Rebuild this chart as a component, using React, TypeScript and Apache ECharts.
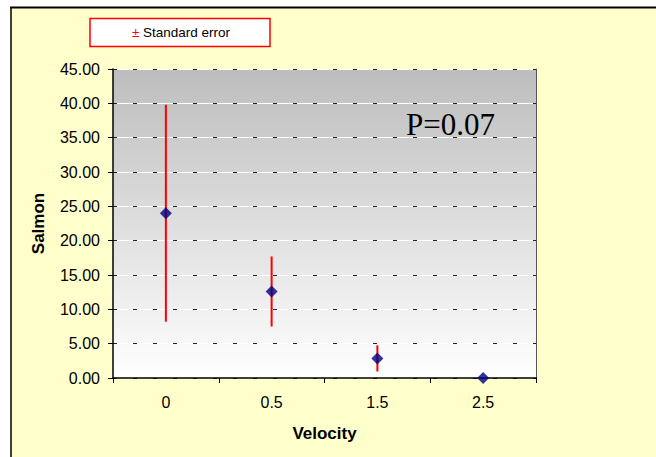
import React, { useEffect, useRef } from "react";
import * as echarts from "echarts";

const categories = ["0", "0.5", "1.5", "2.5"];
const means = [24.0, 12.6, 2.85, 0];
const stdErrors = [15.8, 5.1, 1.9, 0];
const yTicks = { min: 0, max: 45, interval: 5 };
const annotation = "P=0.07";
const legendLabel = "Standard error";

export default function App() {
  const ref = useRef<HTMLDivElement>(null);
  useEffect(() => {
    if (!ref.current) return;
    const chart = echarts.init(ref.current, null, { renderer: "svg" });
    const errData = categories.map((_, i) => [i, means[i] - stdErrors[i], means[i] + stdErrors[i]]);
    const labelFont = { color: "#000", fontFamily: "Arial, 'Liberation Sans', sans-serif", fontSize: 16 };
    const nameFont = { color: "#000", fontFamily: "Arial, 'Liberation Sans', sans-serif", fontSize: 17, fontWeight: "bold" };
    chart.setOption({
      animation: false,
      backgroundColor: "#FFFFCC",
      grid: {
        left: 113,
        top: 69,
        width: 423,
        height: 309,
        show: true,
        borderWidth: 0,
        backgroundColor: new echarts.graphic.LinearGradient(0, 0, 0, 1, [
          { offset: 0, color: "#bdbdbd" },
          { offset: 1, color: "#ffffff" },
        ]),
      },
      xAxis: {
        type: "category",
        data: categories,
        name: "Velocity",
        nameLocation: "middle",
        nameGap: 47,
        nameTextStyle: nameFont,
        axisLine: { lineStyle: { color: "#000", width: 1.5 } },
        axisTick: { show: true, length: 5, lineStyle: { color: "#000" } },
        axisLabel: { ...labelFont, margin: 16 },
        splitLine: { show: false },
      },
      yAxis: [
        {
          type: "value",
          min: yTicks.min,
          max: yTicks.max,
          interval: yTicks.interval,
          name: "Salmon",
          nameLocation: "middle",
          nameGap: 66,
          nameRotate: 90,
          nameTextStyle: nameFont,
          axisLine: { show: true, lineStyle: { color: "#000", width: 1.5 } },
          axisTick: { show: true, length: 5, lineStyle: { color: "#000" } },
          axisLabel: { ...labelFont, margin: 13, formatter: (v: number) => v.toFixed(2) },
          splitLine: { show: true, lineStyle: { color: "#ffffff", width: 1 } },
        },
        {
          type: "value",
          min: yTicks.min,
          max: yTicks.max,
          interval: yTicks.interval,
          position: "right",
          axisLine: { show: true, lineStyle: { color: "#555", width: 1 } },
          axisTick: { show: false },
          axisLabel: { show: false },
          splitLine: { show: true, lineStyle: { color: "#222", width: 1.2, type: [4, 16] } },
        },
      ],
      series: [
        {
          type: "custom",
          data: errData,
          renderItem: (params: any, api: any) => {
            const x = api.value(0);
            const lo = api.coord([x, api.value(1)]);
            const hi = api.coord([x, api.value(2)]);
            return {
              type: "line",
              shape: { x1: lo[0], y1: lo[1], x2: hi[0], y2: hi[1] },
              style: { stroke: "#ff0000", lineWidth: 2 },
            };
          },
          z: 3,
        },
        {
          type: "scatter",
          data: means,
          symbol: "diamond",
          symbolSize: [12, 12],
          itemStyle: { color: "#000080" },
          z: 5,
        },
      ],
      graphic: [
        { type: "rect", shape: { x: 0, y: 0, width: 656, height: 7 }, style: { fill: "#ffffff" }, silent: true },
        { type: "rect", shape: { x: 0, y: 0, width: 10, height: 457 }, style: { fill: "#ffffff" }, silent: true },
        { type: "line", shape: { x1: 10, y1: 7.5, x2: 656, y2: 7.5 }, style: { stroke: "#000", lineWidth: 2 } },
        { type: "line", shape: { x1: 11, y1: 7, x2: 11, y2: 457 }, style: { stroke: "#000", lineWidth: 1.5 } },
        {
          type: "rect",
          shape: { x: 90, y: 18.5, width: 180, height: 28 },
          style: { fill: "#ffffff", stroke: "#ff0000", lineWidth: 1.5 },
        },
        {
          type: "text",
          x: 181,
          y: 32,
          style: {
            text: "{pm|±} " + legendLabel,
            rich: {
              pm: { fill: "#ff0000", fontSize: 13.5, fontFamily: "Arial, 'Liberation Sans', sans-serif" },
            },
            fill: "#000",
            fontSize: 13.5,
            fontFamily: "Arial, 'Liberation Sans', sans-serif",
            align: "center",
            verticalAlign: "middle",
          },
        },
        {
          type: "text",
          x: 406,
          y: 124,
          z: 10,
          style: {
            text: annotation,
            fill: "#000",
            fontSize: 31,
            fontFamily: "'Liberation Serif', 'Times New Roman', serif",
            align: "left",
            verticalAlign: "middle",
          },
        },
      ],
    });
    return () => chart.dispose();
  }, []);
  return <div ref={ref} style={{ position: "absolute", left: 0, top: 0, width: 656, height: 457 }} />;
}
